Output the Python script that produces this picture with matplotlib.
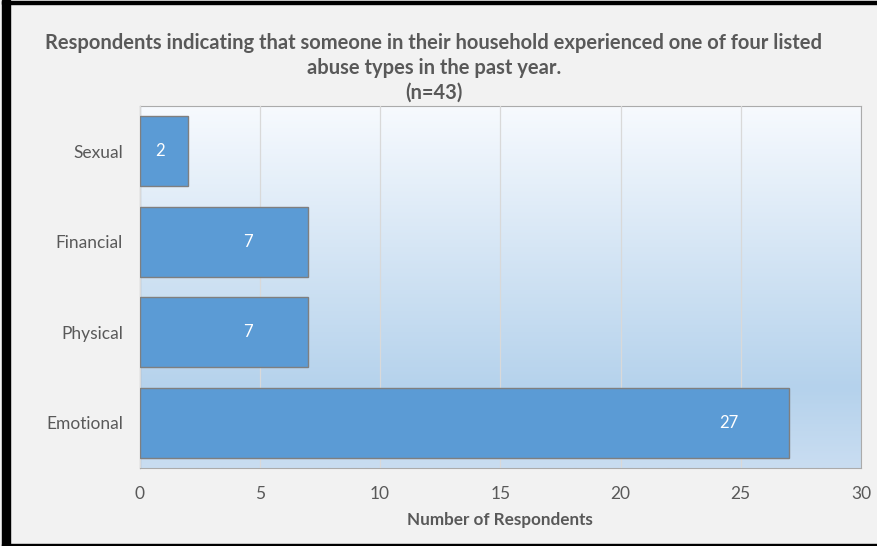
import matplotlib
matplotlib.use("Agg")
import matplotlib.pyplot as plt
import numpy as np
from matplotlib.colors import LinearSegmentedColormap
from matplotlib.patches import Rectangle

categories = ["Sexual", "Financial", "Physical", "Emotional"]
counts = [2, 7, 7, 27]
xticks = [0, 5, 10, 15, 20, 25, 30]
title = ("Respondents indicating that someone in their household experienced one of four listed\n"
         "abuse types in the past year.\n(n=43)")

TEXT = "#595959"
BAR = "#5B9BD5"

plt.rcParams["font.family"] = ["Lato", "DejaVu Sans"]

W, H = 878, 546
fig = plt.figure(figsize=(W / 100, H / 100), dpi=100)
fig.patch.set_facecolor("#F2F2F2")

# black frame edges left over from the screenshot crop
fig.patches.append(Rectangle((2 / W, 0), 8 / W, 1, transform=fig.transFigure,
                             color="black", zorder=-1))
fig.patches.append(Rectangle((2 / W, (H - 4) / H), 1, 3 / H, transform=fig.transFigure,
                             color="black", zorder=-1))
fig.patches.append(Rectangle((2 / W, 0), 1, 2 / H, transform=fig.transFigure,
                             color="black", zorder=-1))

ax = fig.add_axes([139.5 / W, (H - 468) / H, (861 - 139.5) / W, (468 - 106) / H])

# plot-area gradient
cmap = LinearSegmentedColormap.from_list(
    "bg", [(0, "#F7FAFE"), (0.78, "#B5D2EC"), (1.0, "#C9DDF1")])
grad = np.linspace(0, 1, 256).reshape(-1, 1)
ax.imshow(grad, cmap=cmap, aspect="auto", extent=[0, 30, 3.5, -0.5], zorder=0)

y = np.arange(len(categories))
ax.barh(y, counts, height=0.77, color=BAR, edgecolor="#7F7F7F", linewidth=1, zorder=3)
for yi, v in zip(y, counts):
    ax.text(max(v - 2.5, v * 0.43), yi, str(v), color="white", fontsize=12,
            ha="center", va="center", zorder=4)

ax.set_xlim(0, 30)
ax.set_ylim(3.5, -0.5)
ax.set_xticks(xticks)
ax.set_yticks(y)
ax.set_yticklabels(categories)
ax.grid(axis="x", color="#D9D9D9", lw=0.9, zorder=1)
ax.set_axisbelow(False)
ax.tick_params(length=0, labelsize=12.5, labelcolor=TEXT)
ax.tick_params(axis="y", pad=12)
ax.tick_params(axis="x", pad=13)
for s in ["top", "right", "bottom"]:
    ax.spines[s].set_color("#ABABAB")
ax.spines["left"].set_color("#4D4D4D")
ax.set_xlabel("Number of Respondents", fontsize=12.3, fontweight="bold", color=TEXT, labelpad=7)

fig.text(0.494, (H - 67.5) / H, title, ha="center", va="center", fontsize=14.5,
         fontweight="bold", color=TEXT, linespacing=1.3)

fig.savefig("out.png", dpi=100, facecolor=fig.get_facecolor())
